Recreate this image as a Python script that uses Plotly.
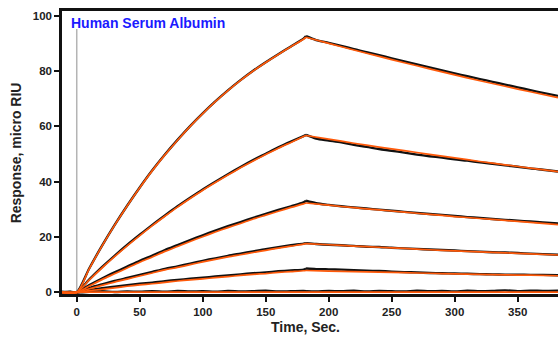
import plotly.graph_objects as go

# ---------------- data ----------------
# time grids (s); 182 s = end of injection (peak)
T_FIT = [-12, 0, 10, 20, 30, 40, 50, 60, 70, 80, 90, 100, 110, 120, 130, 140, 150, 160, 170, 180, 182,
         200, 220, 240, 260, 280, 300, 320, 340, 360, 382]
T_DATA = [-12, -5, 0, 10, 20, 30, 40, 50, 60, 70, 80, 90, 100, 110, 120, 130, 140, 150, 160, 170, 180, 182,
          190, 200, 210, 220, 230, 240, 250, 260, 270, 280, 290, 300, 310, 320, 330, 340, 350, 360, 370, 382]
T_PEAK = 182

# fitted curves (orange)
fit_1 = [0, 0, 8.6, 16.7, 24.2, 31.2, 37.8, 44.0, 49.7, 55.0, 60.0, 64.6, 68.9, 72.9, 76.6, 80.0, 83.1, 86.0, 88.8, 91.5, 92.2,
         90.0, 87.6, 85.3, 83.0, 80.8, 78.6, 76.5, 74.5, 72.5, 70.4]
fit_2 = [0, 0, 4.5, 8.8, 12.9, 16.8, 20.5, 24.1, 27.5, 30.8, 33.9, 36.9, 39.7, 42.4, 45.0, 47.5, 49.8, 52.1, 54.2, 56.3, 56.7,
         55.4, 53.9, 52.5, 51.2, 49.9, 48.6, 47.3, 46.1, 44.9, 43.6]
fit_3 = [0, 0, 2.3, 4.6, 6.7, 8.8, 10.9, 12.8, 14.8, 16.6, 18.4, 20.1, 21.8, 23.4, 24.9, 26.5, 27.9, 29.3, 30.7, 32.0, 32.3,
         31.5, 30.6, 29.8, 29.0, 28.2, 27.4, 26.7, 26.0, 25.3, 24.5]
fit_4 = [0, 0, 1.3, 2.5, 3.7, 4.8, 5.9, 7.0, 8.1, 9.0, 10.0, 11.0, 11.9, 12.8, 13.6, 14.4, 15.2, 16.0, 16.7, 17.4, 17.6,
         17.2, 16.7, 16.3, 15.9, 15.4, 15.0, 14.6, 14.3, 13.9, 13.5]
fit_5 = [0, 0, 0.6, 1.1, 1.6, 2.2, 2.7, 3.1, 3.6, 4.1, 4.5, 4.9, 5.3, 5.7, 6.1, 6.5, 6.8, 7.2, 7.5, 7.8, 7.9,
         7.7, 7.5, 7.3, 7.1, 6.9, 6.7, 6.5, 6.3, 6.2, 6.0]
fit_6 = [0, 0, 0.1, 0.1, 0.1, 0.1, 0.1, 0.1, 0.1, 0.1, 0.1, 0.1, 0.1, 0.1, 0.1, 0.1, 0.1, 0.1, 0.1, 0.1, 0.1,
         0.1, 0.1, 0.1, 0.1, 0.1, 0.1, 0.1, 0.1, 0.1, 0.1]

# measured responses (black)
data_1 = [0.1, -0.1, 0, 8.7, 16.8, 24.3, 31.3, 37.9, 44.1, 49.8, 55.1, 60.1, 64.7, 69.0, 73.0, 76.7, 80.1, 83.2, 86.1, 88.9, 91.7, 92.6,
          91.2, 90.2, 89.1, 87.9, 86.8, 85.7, 84.6, 83.5, 82.4, 81.3, 80.2, 79.1, 78.1, 77.1, 76.1, 75.1, 74.1, 73.1, 72.1, 71.0]
data_2 = [0.0, 0.1, 0, 4.7, 9.1, 13.2, 17.1, 20.8, 24.4, 27.8, 31.1, 34.2, 37.2, 40.0, 42.7, 45.3, 47.8, 50.1, 52.4, 54.5, 56.5, 56.9,
          55.6, 54.9, 54.2, 53.3, 52.6, 51.8, 51.2, 50.5, 49.8, 49.2, 48.7, 48.1, 47.6, 47.0, 46.5, 45.9, 45.4, 44.8, 44.3, 43.7]
data_3 = [0.1, 0.0, 0, 2.6, 5.0, 7.2, 9.3, 11.4, 13.3, 15.3, 17.1, 18.9, 20.6, 22.3, 23.9, 25.4, 26.9, 28.4, 29.8, 31.1, 32.5, 33.1,
          32.2, 31.6, 31.1, 30.7, 30.3, 29.9, 29.5, 29.1, 28.7, 28.3, 28.0, 27.6, 27.2, 26.9, 26.5, 26.2, 25.9, 25.6, 25.3, 24.9]
data_4 = [0.0, 0.1, 0, 1.6, 2.9, 4.1, 5.2, 6.3, 7.4, 8.5, 9.4, 10.4, 11.4, 12.3, 13.2, 14.0, 14.8, 15.6, 16.3, 17.0, 17.6, 17.8,
          17.5, 17.2, 17.0, 16.8, 16.5, 16.4, 16.1, 15.9, 15.7, 15.5, 15.3, 15.1, 14.9, 14.7, 14.5, 14.4, 14.2, 14.0, 13.8, 13.6]
data_5 = [0.1, 0.0, 0, 0.9, 1.5, 2.0, 2.6, 3.1, 3.5, 4.0, 4.5, 4.9, 5.3, 5.7, 6.1, 6.5, 6.9, 7.2, 7.6, 7.9, 8.2, 8.6,
          8.4, 8.3, 8.2, 8.0, 7.8, 7.7, 7.5, 7.3, 7.2, 7.0, 6.9, 6.8, 6.7, 6.6, 6.5, 6.4, 6.4, 6.3, 6.3, 6.2]
data_6 = [0.0, 0.1, 0, 0.2, 0.4, 0.1, 0.3, 0.2, 0.4, 0.2, 0.5, 0.3, 0.4, 0.2, 0.5, 0.3, 0.4, 0.6, 0.3, 0.4, 0.5, 0.4,
          0.3, 0.5, 0.4, 0.6, 0.3, 0.5, 0.4, 0.3, 0.6, 0.4, 0.5, 0.3, 0.6, 0.4, 0.5, 0.7, 0.4, 0.6, 0.5, 0.6]

X_TICKS = [0, 50, 100, 150, 200, 250, 300, 350]
Y_TICKS = [0, 20, 40, 60, 80, 100]
TITLE = "Human Serum Albumin"
X_TITLE = "Time, Sec."
Y_TITLE = "Response, micro RIU"

# ---------------- figure ----------------
fig = go.Figure()


def add_phases(t, y, color, width, shape):
    """Draw association (t <= peak) and dissociation (t >= peak) separately so the peak stays sharp."""
    i = t.index(T_PEAK)
    for tt, yy in ((t[: i + 1], y[: i + 1]), (t[i:], y[i:])):
        fig.add_trace(go.Scatter(x=tt, y=yy, mode="lines",
                                 line=dict(color=color, width=width, shape=shape, smoothing=0.8),
                                 showlegend=False, hoverinfo="skip"))


for d in [data_6, data_5, data_4, data_3, data_2, data_1]:
    add_phases(T_DATA, d, "#111111", 2.4, "spline")
for f in [fit_6, fit_5, fit_4, fit_3, fit_2, fit_1]:
    add_phases(T_FIT, f, "#ff5a0a", 1.7, "spline")

# injection marker line at t = 0
fig.add_shape(type="line", xref="x", yref="y", x0=0, x1=0, y0=-0.6, y1=95.2,
              line=dict(color="#b4b4b4", width=1.5), layer="below")

font_family = "Liberation Sans, Arial, sans-serif"
fig.add_annotation(text="<b>" + TITLE + "</b>", xref="paper", yref="paper", x=0.014, y=0.992,
                   xanchor="left", yanchor="top", showarrow=False,
                   font=dict(family=font_family, size=14, color="#1a1aff"))
fig.add_annotation(text="<b>" + X_TITLE + "</b>", xref="paper", yref="paper", x=0.49, y=-0.118,
                   xanchor="center", yanchor="middle", showarrow=False,
                   font=dict(family=font_family, size=14, color="#222222"))
fig.add_annotation(text="<b>" + Y_TITLE + "</b>", xref="paper", yref="paper", x=-0.093, y=0.5,
                   xanchor="center", yanchor="middle", showarrow=False, textangle=-90,
                   font=dict(family=font_family, size=14, color="#222222"))

fig.update_layout(
    width=558, height=339,
    margin=dict(l=62, r=0, t=11, b=45, autoexpand=False),
    paper_bgcolor="white", plot_bgcolor="white",
    font=dict(family=font_family, color="#222222"),
)
fig.update_xaxes(
    range=[-11.7, 382], tickvals=X_TICKS, ticks="outside", ticklen=5, tickwidth=2, tickcolor="#111",
    showline=True, linecolor="#111", linewidth=2.5, mirror=True, showgrid=False, zeroline=False,
    automargin=False,
    tickfont=dict(family=font_family, size=11.5, color="#222", weight="bold"),
)
fig.update_yaxes(
    range=[-0.6, 101.7], tickvals=Y_TICKS, ticks="outside", ticklen=5, tickwidth=2, tickcolor="#111",
    showline=True, linecolor="#111", linewidth=2.5, mirror=False, showgrid=False, zeroline=False,
    automargin=False,
    tickfont=dict(family=font_family, size=11.5, color="#222", weight="bold"),
)

# remove the default 8px page margin so the 558x339 figure fills the window exactly
fig.write_html("out.html", config={"displayModeBar": False},
               post_script="document.body.style.margin='0px';document.body.style.overflow='hidden';")
